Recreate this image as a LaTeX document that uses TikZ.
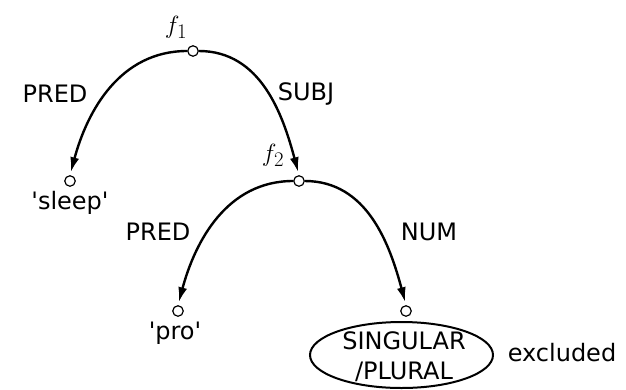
\documentclass[tikz,border=0pt]{standalone}
\usepackage{fontspec}
\setmainfont{DejaVu Sans}
\usetikzlibrary{arrows.meta,shapes.geometric}
\begin{document}
\begin{tikzpicture}[x=1pt,y=-1pt,
  fnode/.style={circle,draw,line width=1.2pt,fill=white,inner sep=0pt,minimum size=10.5pt},
  arc/.style={line width=2.4pt,-{Latex[length=15pt,width=9pt]},shorten >=3pt},
  lbl/.style={font=\fontsize{24}{28}\selectfont,inner sep=0pt},
  fname/.style={font=\fontsize{30}{34}\selectfont,inner sep=0pt}]
  \useasboundingbox (0,0) rectangle (626,389);

  % f-structure nodes
  \node[fnode] (f1) at (193,51) {};
  \node[fnode] (sleep) at (70,181) {};
  \node[fnode] (f2) at (299,181) {};
  \node[fnode] (pro) at (178,311) {};
  \node[fnode] (num) at (406,311) {};

  % names of the structures
  \node[fname] (n1) at (176,27) {$f_1$};
  \node[fname] (n2) at (273,155) {$f_2$};

  % attribute arcs
  \draw[arc] (f1.west) to[out=180,in=75] (sleep.north);
  \draw[arc] (f1.east) to[out=0,in=105] (f2.north);
  \draw[arc] (f2.west) to[out=180,in=75] (pro.north);
  \draw[arc] (f2.east) to[out=0,in=105] (num.north);

  % attribute labels
  \node[lbl] (a1) at (55,94) {PRED};
  \node[lbl] (a2) at (306,94) {SUBJ};
  \node[lbl] (a3) at (158,232) {PRED};
  \node[lbl] (a4) at (429,232) {NUM};

  % values
  \node[lbl] (v1) at (70,203) {\textquotesingle sleep\textquotesingle};
  \node[lbl] (v2) at (175,333) {\textquotesingle pro\textquotesingle};
  \node[ellipse,draw,line width=2pt,minimum width=183pt,minimum height=66pt,inner sep=0pt] (alt) at (401.5,355) {};
  \node[lbl,align=center,font=\fontsize{24}{30}\selectfont] (v3) at (404,357) {SINGULAR\\/PLURAL};
  \node[lbl] (ex) at (562,353) {excluded};
\end{tikzpicture}
\end{document}
